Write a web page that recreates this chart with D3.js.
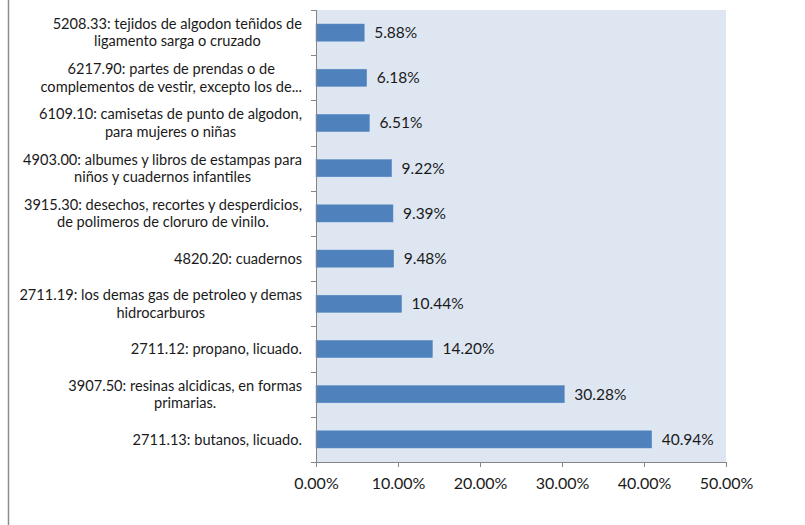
<!DOCTYPE html>
<html>
<head>
<meta charset="utf-8">
<script src="https://cdn.jsdelivr.net/npm/d3@7"></script>
<style>
  body { margin: 0; background: #fff; }
  svg { display: block; }
  text { font-family: Lato, "Open Sans", sans-serif; fill: #1a1a1a; }
</style>
</head>
<body>
<svg width="805" height="525"></svg>
<script>
// chart data, top to bottom
var categories = [
    "5208.33: tejidos de algodon teñidos de|ligamento sarga o cruzado",
    "6217.90: partes de prendas o de|complementos de vestir, excepto los de...",
    "6109.10: camisetas de punto de algodon,|para mujeres o niñas",
    "4903.00: albumes y libros de estampas para|niños y cuadernos infantiles",
    "3915.30: desechos, recortes y desperdicios,|de polimeros de cloruro de vinilo.",
    "4820.20: cuadernos",
    "2711.19: los demas gas de petroleo y demas|hidrocarburos",
    "2711.12: propano, licuado.",
    "3907.50: resinas alcidicas, en formas|primarias.",
    "2711.13: butanos, licuado."
];
var values = [5.88, 6.18, 6.51, 9.22, 9.39, 9.48, 10.44, 14.20, 30.28, 40.94];
var xTicks = [0, 10, 20, 30, 40, 50];

var svg = d3.select("svg");
var pLeft = 316, pRight = 726, pTop = 10, pBottom = 462;

// outer chart border (only the left edge shows)
svg.append("line")
    .attr("x1", 8.5).attr("x2", 8.5)
    .attr("y1", 0).attr("y2", 525)
    .attr("stroke", "#8c8c8c").attr("stroke-width", 1.5);

var x = d3.scaleLinear().domain([0, 50]).range([pLeft, pRight]);
var band = d3.scaleBand().domain(d3.range(categories.length)).range([pTop, pBottom]);
var y = d3.scaleBand().domain(d3.range(categories.length)).range([pTop, pBottom]).paddingInner(0.62).paddingOuter(0.31);

// plot area
svg.append("rect")
    .attr("x", pLeft).attr("y", pTop)
    .attr("width", pRight - pLeft).attr("height", pBottom - pTop)
    .attr("fill", "#dee6f2");

// bars
svg.selectAll(".bar")
    .data(values)
    .enter().append("rect")
    .attr("class", "bar")
    .attr("x", pLeft)
    .attr("y", (d, i) => y(i))
    .attr("width", d => x(d) - pLeft)
    .attr("height", y.bandwidth())
    .attr("fill", "#4f81bd")
    .attr("stroke", "#5b8cc6")
    .attr("stroke-width", 0.5);

// value labels
svg.selectAll(".val")
    .data(values)
    .enter().append("text")
    .attr("class", "val")
    .attr("x", d => x(d) + 10)
    .attr("y", (d, i) => y(i) + y.bandwidth() / 2)
    .attr("dy", "0.35em")
    .style("font-size", "15.5px")
    .text(d => d.toFixed(2) + "%");

// x axis
var xAxis = svg.append("g")
    .attr("transform", "translate(0," + pBottom + ")")
    .call(d3.axisBottom(x).tickValues(xTicks).tickSize(5).tickPadding(11)
        .tickFormat(d => d.toFixed(2) + "%"));
xAxis.select(".domain").attr("stroke", "#868686");
xAxis.selectAll(".tick line").attr("stroke", "#868686");
xAxis.selectAll("text").style("font-size", "16px").attr("fill", "#1a1a1a")
    .style("font-family", "Lato, sans-serif");

// y axis with ticks at band boundaries
var yLine = svg.append("g");
yLine.append("line")
    .attr("x1", pLeft + 0.5).attr("x2", pLeft + 0.5)
    .attr("y1", pTop).attr("y2", pBottom)
    .attr("stroke", "#868686");
yLine.selectAll(".ytick")
    .data(d3.range(categories.length + 1))
    .enter().append("line")
    .attr("x1", pLeft - 5).attr("x2", pLeft)
    .attr("y1", i => Math.round(pTop + i * band.bandwidth()) + 0.5)
    .attr("y2", i => Math.round(pTop + i * band.bandwidth()) + 0.5)
    .attr("stroke", "#868686");

// category labels
var lineH = 17.5;
svg.selectAll(".cat")
    .data(categories)
    .enter().append("text")
    .attr("class", "cat")
    .attr("text-anchor", "middle")
    .style("font-size", "14.6px")
    .each(function(d, i) {
        var lines = d.split("|");
        var cy = band(i) + band.bandwidth() / 2;
        var t = d3.select(this);
        lines.forEach(function(l, k) {
            t.append("tspan")
                .attr("y", cy + (k - (lines.length - 1) / 2) * lineH)
                .attr("dy", "0.35em")
                .text(l);
        });
    });

// center each block of lines, right aligned as a block at x = 302
svg.selectAll(".cat").each(function() {
    var t = d3.select(this);
    var w = 0;
    t.selectAll("tspan").each(function() { w = Math.max(w, this.getComputedTextLength()); });
    t.selectAll("tspan").attr("x", 302 - w / 2);
});
</script>
</body>
</html>
